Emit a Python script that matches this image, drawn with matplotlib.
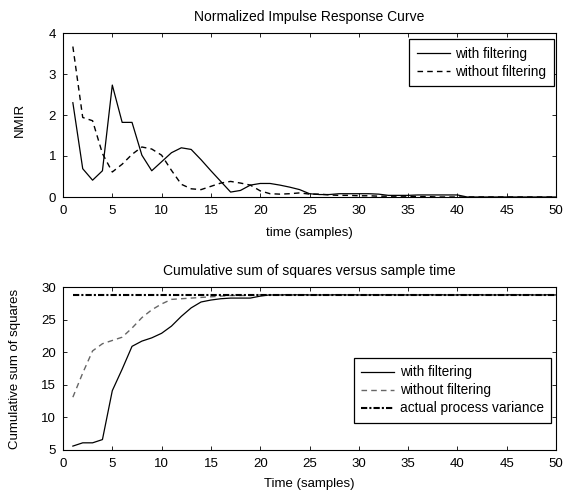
import matplotlib
matplotlib.use("Agg")
import matplotlib.pyplot as plt

plt.rcParams['font.family'] = ['Liberation Sans', 'DejaVu Sans']

t = list(range(1, 51))

nmir_filt = [2.30, 0.69, 0.41, 0.64, 2.73, 1.82, 1.82, 1.02, 0.64, 0.86,
             1.08, 1.20, 1.16, 0.91, 0.64, 0.38, 0.12, 0.16, 0.29, 0.33,
             0.33, 0.29, 0.24, 0.18, 0.08, 0.06, 0.06, 0.08, 0.08, 0.08,
             0.08, 0.07, 0.04, 0.04, 0.04, 0.05, 0.05, 0.05, 0.05, 0.05,
             0.00, 0.00, 0.00, 0.00, 0.00, 0.00, 0.00, 0.00, 0.00, 0.00]
nmir_nofilt = [3.67, 1.94, 1.86, 1.06, 0.61, 0.80, 1.04, 1.22, 1.17, 1.02,
               0.65, 0.31, 0.20, 0.18, 0.26, 0.34, 0.38, 0.34, 0.29, 0.15,
               0.08, 0.07, 0.08, 0.10, 0.07, 0.07, 0.05, 0.04, 0.04, 0.03,
               0.03, 0.02, 0.02, 0.02, 0.02, 0.01, 0.01, 0.00, 0.00, 0.00,
               0.00, 0.00, 0.00, 0.00, 0.00, 0.00, 0.00, 0.00, 0.00, 0.00]

css_filt = [5.6, 6.1, 6.1, 6.6, 14.1, 17.4, 20.9, 21.7, 22.2, 22.9,
            24.0, 25.5, 26.8, 27.7, 28.0, 28.2, 28.3, 28.3, 28.3, 28.6,
            28.8, 28.8, 28.8, 28.8, 28.8, 28.8, 28.8, 28.8, 28.8, 28.8,
            28.8, 28.8, 28.8, 28.8, 28.8, 28.8, 28.8, 28.8, 28.8, 28.8,
            28.8, 28.8, 28.8, 28.8, 28.8, 28.8, 28.8, 28.8, 28.8, 28.8]
css_nofilt = [13.1, 16.8, 20.2, 21.3, 21.8, 22.3, 23.7, 25.3, 26.5, 27.4,
              28.1, 28.2, 28.3, 28.4, 28.5, 28.6, 28.7, 28.7, 28.7, 28.8,
              28.8, 28.8, 28.8, 28.8, 28.8, 28.8, 28.8, 28.8, 28.8, 28.8,
              28.8, 28.8, 28.8, 28.8, 28.8, 28.8, 28.8, 28.8, 28.8, 28.8,
              28.8, 28.8, 28.8, 28.8, 28.8, 28.8, 28.8, 28.8, 28.8, 28.8]
process_variance = 28.8

W, H = 565, 491
fig = plt.figure(figsize=(W / 100, H / 100), dpi=100)

def ax_rect(l, r, t_, b):
    return [l / W, 1 - b / H, (r - l) / W, (b - t_) / H]

tick_fs = 9.5
lab_fs = 9.5
title_fs = 10
leg_fs = 9.8

def style(ax):
    ax.tick_params(axis='x', direction='in', top=True, labelsize=tick_fs,
                   length=3, width=0.6, pad=6)
    ax.tick_params(axis='y', direction='in', right=True, labelsize=tick_fs,
                   length=3, width=0.6, pad=5)
    for s in ax.spines.values():
        s.set_linewidth(0.8)

def make_legend(ax, **kw):
    leg = ax.legend(fontsize=leg_fs, fancybox=False, edgecolor='black',
                    framealpha=1, borderpad=0.55, handlelength=2.4,
                    handletextpad=0.4, labelspacing=0.3, borderaxespad=0,
                    **kw)
    leg.get_frame().set_linewidth(0.9)
    return leg

ax1 = fig.add_axes(ax_rect(63, 556, 33, 197))
ax1.plot(t, nmir_filt, color='black', lw=0.9, label='with filtering')
ax1.plot(t, nmir_nofilt, color='black', lw=1.0, ls=(0, (4, 3)),
         label='without filtering')
ax1.set_xlim(0, 50)
ax1.set_ylim(0, 4)
ax1.set_xticks(range(0, 51, 5))
ax1.set_yticks(range(0, 5))
ax1.set_title('Normalized Impulse Response Curve', fontsize=title_fs, pad=8.5)
ax1.set_xlabel('time (samples)', fontsize=lab_fs)
ax1.set_ylabel('NMIR', fontsize=lab_fs)
ax1.xaxis.set_label_coords(0.5, -0.18)
ax1.yaxis.set_label_coords(-0.075, 0.47)
style(ax1)
make_legend(ax1, loc='upper right', bbox_to_anchor=(0.995, 0.963))

ax2 = fig.add_axes(ax_rect(63, 556, 287, 450))
ax2.plot(t, css_filt, color='black', lw=0.9, label='with filtering')
ax2.plot(t, css_nofilt, color='#666666', lw=1.0, ls=(0, (4, 3)),
         label='without filtering')
ax2.plot(t, [process_variance] * len(t), color='black', lw=1.5,
         ls=(0, (3, 1, 1, 1)), label='actual process variance')
ax2.set_xlim(0, 50)
ax2.set_ylim(5, 30)
ax2.set_xticks(range(0, 51, 5))
ax2.set_yticks(range(5, 31, 5))
ax2.set_title('Cumulative sum of squares versus sample time',
              fontsize=title_fs, pad=9)
ax2.set_xlabel('Time (samples)', fontsize=lab_fs)
ax2.set_ylabel('Cumulative sum of squares', fontsize=lab_fs)
ax2.xaxis.set_label_coords(0.5, -0.172)
ax2.yaxis.set_label_coords(-0.085, 0.5)
style(ax2)
make_legend(ax2, loc='lower right', bbox_to_anchor=(0.99, 0.166))

fig.savefig('out.png', dpi=100)
